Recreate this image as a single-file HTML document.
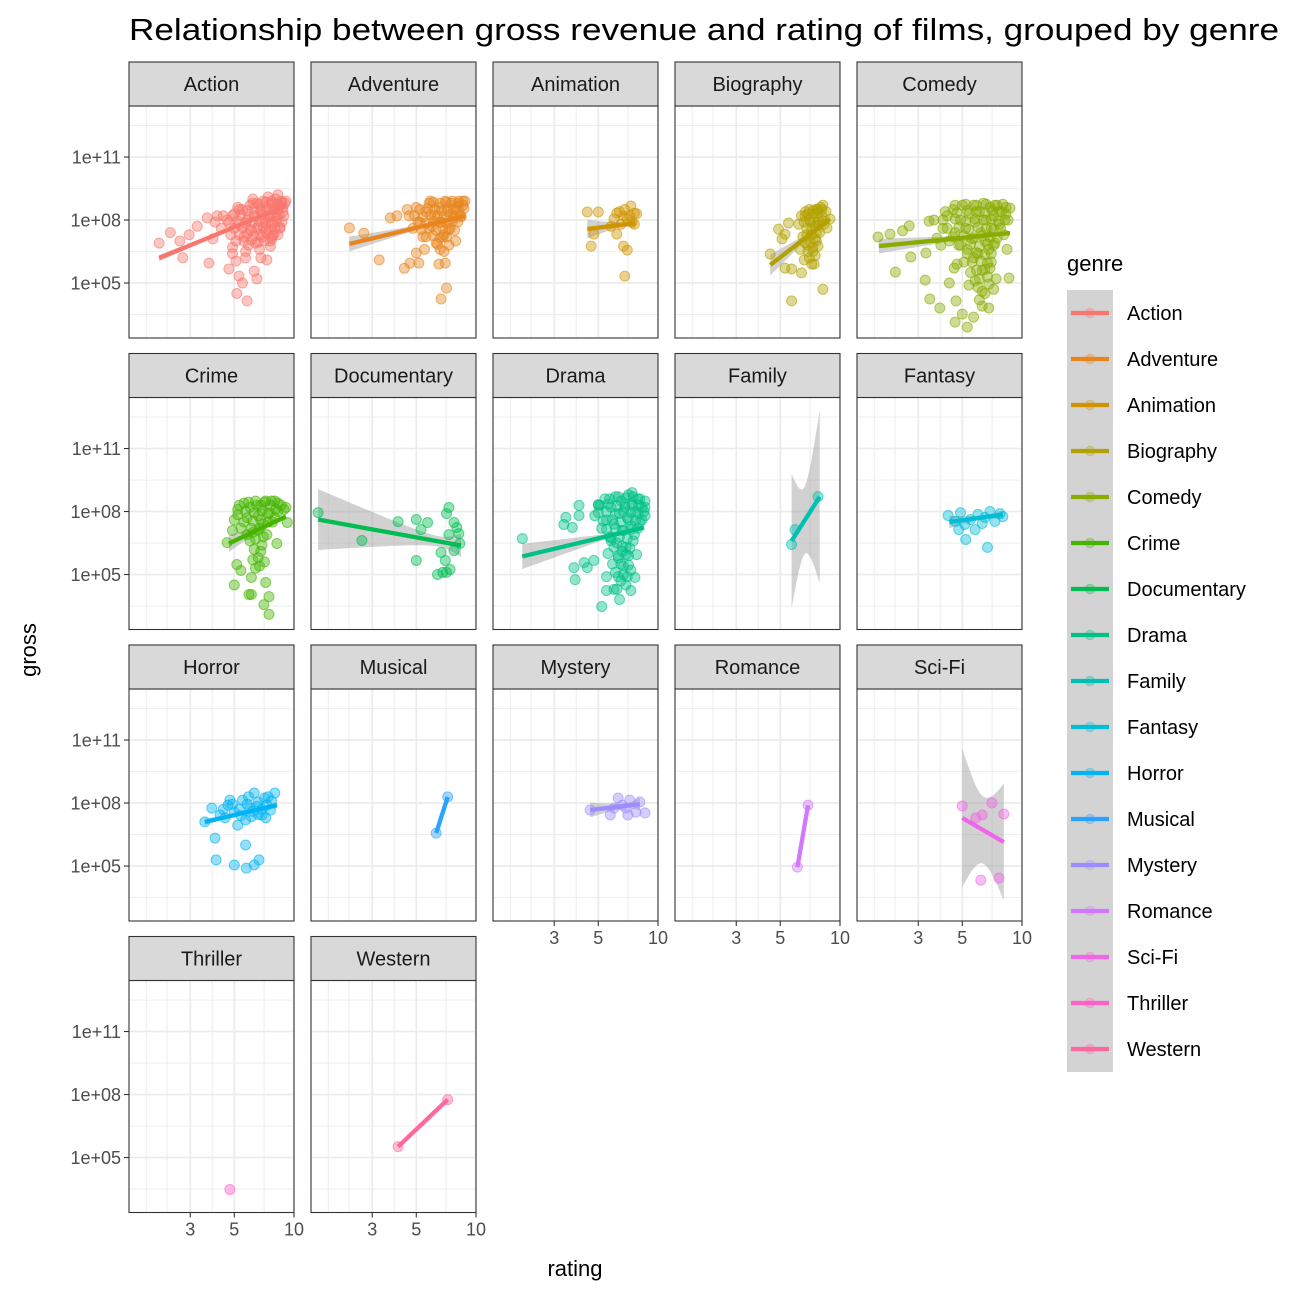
<!DOCTYPE html>
<html><head><meta charset="utf-8"><style>
html,body{margin:0;padding:0;background:#fff;}
svg{display:block;font-family:"Liberation Sans",Arial,sans-serif;}
</style></head><body>
<svg id="chart" width="1296" height="1296" viewBox="0 0 1296 1296" xmlns="http://www.w3.org/2000/svg">
<rect x="0" y="0" width="1296" height="1296" fill="#fff"/>
<text x="129" y="40" font-size="31" fill="#000" textLength="1150" lengthAdjust="spacingAndGlyphs">Relationship between gross revenue and rating of films, grouped by genre</text>
<text x="0" y="0" font-size="22" fill="#000" text-anchor="middle" transform="translate(36,650) rotate(-90)">gross</text>
<text x="575" y="1276" font-size="22" fill="#000" text-anchor="middle">rating</text>
<text x="1067" y="271" font-size="22" fill="#000">genre</text>
<g id="panels"></g>
<g id="legend"></g>
</svg>
<script>
const genres = ["Action","Adventure","Animation","Biography","Comedy","Crime","Documentary","Drama","Family","Fantasy","Horror","Musical","Mystery","Romance","Sci-Fi","Thriller","Western"];
const colors = ["#F8766D","#E7851E","#D09400","#B2A100","#89AC00","#45B500","#00BC51","#00C087","#00C0B2","#00BCD6","#00B3F2","#29A3FF","#9C8DFF","#D277FF","#F166E8","#FF61C7","#FF689E"];
const xTicks = [3,5,10];
const xTickLabels = ["3","5","10"];
const xMinor = [1.8,2.29,3.87,7.07];
const yTicks = [11,8,5];
const yTickLabels = ["1e+11","1e+08","1e+05"];
const yMinor = [12.5,9.5,6.5,3.5];

// points: [rating, log10(gross)]
const action = [[2.09,6.9],[2.38,7.4],[2.66,7.0],[2.75,6.2],[2.96,7.3],[3.73,5.95],[3.25,7.7],[3.65,8.1],[4.1,8.2],[4.7,5.67],[5.1,6.05],[5.28,5.33],[5.5,5.0],[5.15,4.5],[5.8,4.15],[6.3,5.57],[6.5,5.2],[7.3,6.1],[5.7,6.2],[6.8,6.2],[7.75,7.1],[4.9,6.4],
[4.3,7.6],[4.6,8.0],[4.8,7.3],[5.0,8.3],[5.1,7.0],[5.3,7.8],[5.5,8.5],[5.6,7.2],[5.8,8.0],[5.9,6.8],[6.0,8.7],[6.1,7.5],[6.3,8.2],[6.4,6.9],[6.5,8.8],[6.6,7.7],[6.8,8.4],[6.9,7.2],[7.0,8.9],[7.1,8.0],[7.2,7.5],[7.3,8.6],[7.5,8.2],[7.6,7.0],[7.7,8.9],[7.8,7.8],[8.0,8.5],[8.1,9.0],[8.2,8.1],[8.4,8.7],[8.5,7.6],[8.6,8.9],[8.8,8.4],[9.0,8.8],[5.2,8.6],[4.4,8.2],[6.2,9.0],[7.4,9.1],[8.3,9.2],[6.7,6.6],[5.7,6.5],[4.9,6.7],[7.9,7.3],[4.0,7.9],[3.9,7.1],
[6.2,8.8],[6.7,8.75],[7.2,8.85],[7.7,8.8],[8.2,8.75],[8.7,8.85],[9.1,8.9],
[5.3,8.5],[5.8,8.45],[6.3,8.55],[6.8,8.5],[7.3,8.45],[7.8,8.55],[8.3,8.5],[8.8,8.6],
[4.9,8.2],[5.4,8.25],[5.9,8.15],[6.4,8.2],[6.9,8.25],[7.4,8.15],[7.9,8.2],[8.4,8.25],[8.9,8.2],
[4.7,7.9],[5.2,7.95],[5.7,7.85],[6.2,7.9],[6.7,7.95],[7.2,7.85],[7.7,7.9],[8.2,7.95],[8.7,7.9],
[5.0,7.6],[5.5,7.65],[6.0,7.55],[6.5,7.6],[7.0,7.65],[7.5,7.55],[8.0,7.6],[8.5,7.65],
[5.3,7.3],[5.8,7.35],[6.3,7.25],[6.8,7.3],[7.3,7.35],[7.8,7.25],[8.3,7.3],
[5.6,7.0],[6.1,7.05],[6.6,6.95],[7.1,7.0],[7.6,6.75]];
const adventure = [[2.3,7.62],[2.72,7.38],[3.25,6.1],[3.7,8.1],[4.0,8.2],[4.35,5.7],[4.65,5.95],[5.15,5.95],[5.0,6.43],[6.5,5.9],[7.0,5.95],[7.1,4.76],[6.66,4.24],[4.5,8.5],
[4.6,8.2],[4.8,7.6],[5.0,8.6],[5.2,7.9],[5.4,7.2],[5.6,8.4],[5.8,8.8],[6.0,7.7],[6.2,8.2],[6.3,6.9],[6.5,8.6],[6.7,7.9],[6.9,7.3],[7.0,8.9],[7.2,8.4],[7.4,7.6],[7.5,8.8],[7.7,8.1],[7.9,7.0],[8.0,8.6],[8.2,8.9],[8.4,8.2],[8.6,8.7],[8.8,8.9],[5.5,6.6],[6.6,6.6],[7.3,6.8],[5.9,8.9],[6.8,7.2],
[6.1,8.85],[6.6,8.8],[7.1,8.85],[7.6,8.9],[8.1,8.8],[8.6,8.9],
[5.2,8.5],[5.7,8.55],[6.2,8.5],[6.7,8.45],[7.2,8.55],[7.7,8.5],[8.2,8.45],[8.7,8.55],
[4.9,8.2],[5.4,8.15],[5.9,8.25],[6.4,8.2],[6.9,8.15],[7.4,8.25],[7.9,8.2],[8.4,8.15],
[5.1,7.9],[5.6,7.85],[6.1,7.95],[6.6,7.9],[7.1,7.85],[7.6,7.95],[8.1,7.9],
[5.3,7.55],[5.8,7.6],[6.3,7.5],[6.8,7.6],[7.3,7.55],[7.8,7.5],
[5.6,7.2],[6.1,7.25],[6.6,7.15],[7.1,7.2],[6.4,6.85],[6.9,6.5]];
const animation = [[4.4,8.38],[5.0,8.38],[4.6,6.76],[4.75,7.33],[6.2,8.33],[7.3,8.67],[7.6,8.33],[6.7,8.19],[6.2,7.33],[6.7,6.76],[7.0,6.57],[6.8,5.33],[7.8,8.3],[7.6,7.8],[6.0,8.05],[7.0,8.05],[6.5,7.8],[6.8,8.5],[7.2,8.2],[6.4,8.4],[7.4,7.9],[5.8,7.7]];
const biography = [[4.45,6.38],[4.9,7.57],[5.5,7.86],[5.28,7.33],[5.1,7.1],[5.28,5.71],[5.7,5.67],[6.4,5.48],[7.2,5.9],[8.2,4.7],[5.7,4.15],[7.6,8.52],[6.66,8.19],[8.9,8.05],[8.6,7.62],[7.75,6.76],[7.5,6.3],
[6.2,7.8],[6.4,8.2],[6.5,7.2],[6.7,8.4],[6.8,7.6],[6.9,6.8],[7.0,8.5],[7.1,7.9],[7.2,7.3],[7.3,6.5],[7.4,8.3],[7.5,7.7],[7.6,7.0],[7.7,8.5],[7.8,8.0],[7.9,7.4],[8.0,8.6],[8.1,8.2],[8.3,7.8],[8.5,8.4],[6.6,6.1],[7.0,6.2],[7.4,5.9],[6.3,6.6],[8.2,8.7],
[6.9,8.3],[7.3,8.45],[7.7,8.3],[8.1,8.5],[6.6,7.9],[7.0,8.0],[7.4,7.9],[7.8,7.75],[8.2,7.95],[6.8,7.3],[7.2,7.55],[7.6,7.4],[6.7,6.9],[7.1,6.95],[7.5,7.1],[6.9,6.5],[7.3,6.7]];
const comedy = [[1.88,7.19],[2.16,7.33],[2.5,7.48],[2.7,7.72],[2.75,6.24],[2.3,5.52],[3.25,5.14],[3.28,6.43],[3.43,4.24],[3.85,3.81],[4.6,3.14],[5.0,3.52],[5.3,2.9],[5.7,3.38],[4.65,4.15],[4.3,5.0],[4.55,5.71],[8.6,5.24],[8.7,8.57],[6.8,3.81],[6.3,3.9],[3.4,7.95],[3.73,7.14],
[4.0,7.6],[4.2,8.2],[4.3,7.0],[4.5,8.5],[4.6,7.4],[4.8,6.8],[4.9,8.0],[5.0,8.7],[5.2,7.6],[5.3,6.6],[5.4,8.3],[5.6,7.1],[5.7,8.7],[5.8,7.9],[6.0,6.4],[6.1,8.4],[6.2,7.4],[6.4,8.8],[6.5,7.0],[6.6,8.0],[6.8,6.6],[6.9,8.6],[7.0,7.6],[7.2,8.2],[7.3,6.9],[7.5,8.7],[7.7,7.8],[7.9,8.4],[8.1,7.3],[8.3,8.6],[5.1,6.0],[5.5,5.5],[5.8,5.1],[6.0,4.8],[6.3,5.6],[6.5,4.5],[6.7,5.3],[7.0,6.0],[7.2,4.7],[5.4,4.9],[6.1,4.2],[5.7,6.2],[6.9,5.7],[7.4,5.2],[4.7,5.9],[3.6,8.0],[3.9,6.8],[8.5,8.0],[8.4,6.6],
[4.6,8.7],[5.2,8.75],[5.9,8.7],[6.6,8.75],[7.3,8.7],[8.0,8.75],
[4.1,8.4],[4.7,8.35],[5.3,8.45],[5.9,8.4],[6.5,8.35],[7.1,8.45],[7.7,8.4],[8.3,8.3],
[4.0,8.0],[4.6,8.05],[5.2,7.95],[5.8,8.05],[6.4,8.0],[7.0,8.05],[7.6,7.95],[8.2,8.0],
[4.2,7.6],[4.8,7.65],[5.4,7.55],[6.0,7.65],[6.6,7.6],[7.2,7.55],[7.8,7.6],
[4.5,7.2],[5.1,7.25],[5.7,7.15],[6.3,7.25],[6.9,7.2],[7.5,7.15],
[4.9,6.8],[5.5,6.85],[6.1,6.75],[6.7,6.85],[7.2,6.8],
[5.3,6.4],[5.9,6.45],[6.5,6.35],[7.0,6.4],
[5.6,6.0],[6.2,6.05],[6.7,5.95],[5.9,5.6],[6.5,5.65],[6.1,5.2],[6.8,4.95],[6.3,4.6]];
const crime = [[5.0,4.5],[5.93,4.05],[6.1,4.05],[7.05,3.57],[7.48,3.1],[7.48,3.95],[7.2,4.62],[6.1,4.86],[5.15,5.48],[5.4,5.19],[4.6,6.52],[4.9,7.1],[8.2,6.48],[9.1,8.19],[9.25,7.48],
[5.0,7.6],[5.2,8.1],[5.4,7.2],[5.6,8.4],[5.8,7.7],[6.0,8.2],[6.2,7.0],[6.4,8.5],[6.6,7.8],[6.8,8.3],[7.0,7.4],[7.2,8.5],[7.4,7.9],[7.6,8.3],[7.8,7.5],[8.0,8.5],[8.3,8.0],[8.6,8.3],[8.9,8.1],[6.0,6.6],[6.3,6.2],[6.6,5.8],[6.9,6.4],[7.1,5.6],[6.4,5.3],[5.8,6.9],[7.3,6.9],[6.7,7.2],
[5.3,8.3],[5.9,8.45],[6.5,8.3],[7.1,8.45],[7.7,8.5],[8.3,8.4],[5.2,7.85],[5.7,8.0],[6.3,7.95],[6.9,8.05],[7.5,7.95],[8.1,8.1],[5.6,7.5],[6.2,7.55],[6.8,7.6],[7.4,7.5],[8.0,7.7],[6.1,7.2],[6.6,7.1],[7.0,6.8],[6.4,6.7],[6.8,6.1],[6.2,5.7],[6.7,5.4]];
const documentary = [[1.6,7.95],[2.66,6.62],[4.05,7.52],[5.0,7.62],[5.7,7.48],[5.28,7.14],[5.0,5.67],[7.3,8.19],[7.1,7.9],[7.75,7.48],[8.0,7.24],[8.2,6.95],[7.3,6.9],[8.3,6.48],[7.75,6.14],[6.66,6.05],[7.0,5.67],[7.4,5.24],[6.4,5.0],[7.1,5.1],[6.8,5.1]];
const drama = [[2.07,6.71],[3.35,7.38],[3.43,7.72],[3.7,7.24],[4.0,8.29],[4.0,7.81],[5.0,8.33],[3.77,5.33],[3.82,4.76],[4.24,5.57],[4.4,5.33],[5.2,3.48],[6.4,3.81],[5.5,4.24],[6.0,4.29],[7.3,4.24],[7.8,5.95],[7.65,4.86],[7.4,8.9],[4.75,5.67],
[4.8,7.8],[5.0,8.3],[5.2,7.2],[5.4,8.6],[5.5,7.6],[5.7,6.8],[5.8,8.2],[6.0,7.4],[6.1,8.7],[6.2,6.5],[6.4,7.9],[6.5,8.5],[6.6,7.1],[6.8,8.2],[6.9,6.3],[7.0,7.7],[7.1,8.8],[7.3,7.3],[7.4,8.4],[7.6,6.9],[7.7,8.0],[7.9,8.6],[8.1,7.5],[8.3,8.2],[8.6,7.8],[5.6,6.0],[5.9,5.5],[6.1,5.1],[6.3,5.8],[6.5,4.7],[6.7,5.4],[6.9,4.5],[7.1,5.9],[7.3,5.2],[5.5,4.9],[6.2,4.3],[6.6,6.1],[7.0,4.9],[5.8,6.6],
[5.7,8.6],[6.3,8.7],[6.9,8.65],[7.5,8.7],[8.1,8.6],[8.6,8.5],
[5.1,8.3],[5.6,8.35],[6.2,8.25],[6.8,8.35],[7.4,8.3],[8.0,8.3],[8.6,8.2],
[5.0,7.95],[5.5,8.0],[6.1,7.9],[6.7,8.0],[7.3,7.95],[7.9,7.9],[8.5,8.0],
[5.3,7.55],[5.9,7.6],[6.5,7.5],[7.1,7.6],[7.7,7.55],[8.3,7.6],
[5.5,7.15],[6.1,7.2],[6.7,7.1],[7.3,7.15],[7.9,7.2],
[5.8,6.75],[6.4,6.8],[7.0,6.7],[7.5,6.6],
[6.0,6.3],[6.6,6.35],[7.2,6.25],[6.3,5.9],[6.9,5.95],[6.5,5.5],[7.1,5.45],[6.7,5.0],[6.3,4.9]];
const family = [[5.7,6.43],[5.93,7.14],[7.75,8.71]];
const fantasy = [[4.24,7.81],[4.6,7.53],[4.9,7.95],[5.15,7.38],[5.5,7.62],[6.0,7.86],[6.5,7.72],[6.9,8.0],[7.3,7.53],[7.75,7.9],[8.0,7.76],[5.2,6.67],[6.7,6.29],[4.8,7.14],[5.8,7.14],[6.3,7.43]];
const horror = [[3.55,7.1],[3.85,7.76],[4.24,7.43],[4.65,7.9],[5.0,7.57],[5.5,8.14],[6.0,7.76],[6.6,8.05],[7.1,8.24],[7.6,7.67],[8.0,8.48],[6.9,7.43],[5.7,7.19],[4.0,6.33],[5.7,6.0],[4.05,5.29],[5.0,5.05],[5.75,4.9],[6.3,5.05],[6.66,5.29],[4.75,8.14],[6.3,8.48],[5.2,6.95],
[4.4,7.7],[4.9,7.95],[5.3,7.7],[5.8,7.95],[6.2,7.6],[6.5,7.85],[6.9,7.7],[7.3,7.9],[7.7,8.1],[4.5,7.3],[5.4,7.4],[6.1,7.35],[6.6,7.45],[7.2,7.3],[5.9,8.3],[7.4,8.3]];
const musical = [[6.3,6.57],[7.2,8.29]];
const mystery = [[4.55,7.67],[5.75,7.43],[6.3,8.24],[6.6,7.9],[6.9,7.76],[7.2,8.14],[7.75,7.57],[8.1,8.05],[8.6,7.53],[7.05,7.43],[6.0,7.76]];
const romance = [[6.1,4.95],[6.9,7.9]];
const scifi = [[5.0,7.86],[7.05,8.0],[8.1,7.48],[6.3,7.43],[5.85,7.29],[6.2,4.33],[7.65,4.43]];
const thriller = [[4.75,3.48]];
const western = [[4.05,5.52],[7.2,7.76]];
const genrePoints = [action,adventure,animation,biography,comedy,crime,documentary,drama,family,fantasy,horror,musical,mystery,romance,scifi,thriller,western];

// fitted lines: start/end rating and log10 gross
const lineR0 = [2.09,2.3,4.4,4.45,1.9,4.7,1.6,2.07,5.7,4.3,3.55,6.3,4.55,6.1,5.0,null,4.05];
const lineE0 = [6.19,6.86,7.57,5.86,6.76,6.48,7.62,5.86,6.6,7.5,7.1,6.57,7.67,4.95,7.29,null,5.52];
const lineR1 = [9.1,8.8,7.7,8.9,8.7,9.1,8.4,8.5,7.9,8.0,8.2,7.2,8.1,6.9,8.1,null,7.2];
const lineE1 = [8.67,8.19,7.86,8.05,7.38,7.76,6.38,7.24,8.7,7.85,7.9,8.29,7.95,7.9,6.14,null,7.76];
// confidence band half-widths (log10 units): at left end, minimum, right end; rating of minimum
const bandLeft  = [0.15,0.35,0.45,0.5,0.35,0.4,1.45,0.6,3.2,0.3,0.15,0,0.35,0,3.3,0,0];
const bandMin   = [0.04,0.05,0.12,0.1,0.04,0.08,0.25,0.05,1.6,0.1,0.06,0,0.12,0,1.6,0,0];
const bandRight = [0.06,0.07,0.25,0.15,0.08,0.15,0.55,0.08,4.1,0.2,0.15,0,0.3,0,2.8,0,0];
const bandMinAt = [7.2,6.8,6.6,7.5,6.6,7.2,6.6,6.8,6.6,6.3,6.0,0,6.9,0,6.4,0,0];

const NS = "http://www.w3.org/2000/svg";
const colLeft = [129,311,493,675,857];
const rowTop = [106,397.5,689,980.5];
const PW = 165, PH = 232;
function xScale(left, r){ return left + PW - (1 - Math.log10(r)) * 198.4; }
function yScale(top, e){ return top + (13.43 - e) * 21; }
function mk(tag, attrs, parent){
  const el = document.createElementNS(NS, tag);
  for (const k in attrs) el.setAttribute(k, attrs[k]);
  parent.appendChild(el);
  return el;
}
const panels = document.getElementById("panels");
const defs = mk("defs", {}, panels);
const bottomRowFor = [3,3,2,2,2];

genres.forEach((g, i) => {
  const col = i % 5, row = Math.floor(i / 5);
  const L = colLeft[col], T = rowTop[row];
  const grp = mk("g", {}, panels);
  
  
  const cp = mk("clipPath", {id: "clip" + i}, defs);
  mk("rect", {x: L, y: T, width: PW, height: PH}, cp);
  mk("rect", {x: L, y: T, width: PW, height: PH, fill: "#fff"}, grp);
  const grid = mk("g", {"clip-path": "url(#clip" + i + ")"}, grp);
  
  
  yMinor.forEach(v => { const y = yScale(T, v); mk("line", {x1: L, x2: L+PW, y1: y, y2: y, stroke: "#EBEBEB", "stroke-width": 0.9}, grid); });
  xMinor.forEach(v => { const x = xScale(L, v); mk("line", {x1: x, x2: x, y1: T, y2: T+PH, stroke: "#EBEBEB", "stroke-width": 0.9}, grid); });
  yTicks.forEach(v => { const y = yScale(T, v); mk("line", {x1: L, x2: L+PW, y1: y, y2: y, stroke: "#EBEBEB", "stroke-width": 1.7}, grid); });
  xTicks.forEach(v => { const x = xScale(L, v); mk("line", {x1: x, x2: x, y1: T, y2: T+PH, stroke: "#EBEBEB", "stroke-width": 1.7}, grid); });

  const marks = mk("g", {"clip-path": "url(#clip" + i + ")"}, grp);
  const c = colors[i];
  if (lineR0[i] !== null && bandLeft[i] > 0) {
    const t0 = Math.log10(lineR0[i]), t1 = Math.log10(lineR1[i]), tm = Math.log10(bandMinAt[i]);
    const m = bandMin[i];
    const up = [], dn = [];
    for (let k = 0; k <= 40; k++) {
      const t = t0 + (t1 - t0) * k / 40;
      const ec = lineE0[i] + (lineE1[i] - lineE0[i]) * k / 40;
      let hw;
      if (t < tm) { const E = bandLeft[i]; const f = (t - tm) / (t0 - tm); hw = Math.sqrt(m*m + (E*E - m*m) * f * f); }
      else { const E = bandRight[i]; const f = (t - tm) / (t1 - tm || 1); hw = Math.sqrt(m*m + (E*E - m*m) * f * f); }
      const x = xScale(L, Math.pow(10, t));
      up.push(x.toFixed(1) + "," + yScale(T, ec + hw).toFixed(1));
      dn.unshift(x.toFixed(1) + "," + yScale(T, ec - hw).toFixed(1));
    }
    const band = mk("polygon", {points: up.concat(dn).join(" "), fill: "#999999", "fill-opacity": 0.45}, marks);
    
    
  }
  genrePoints[i].forEach(p => {
    const dot = mk("circle", {cx: xScale(L, p[0]).toFixed(1), cy: yScale(T, p[1]).toFixed(1), r: 5, fill: c, "fill-opacity": 0.42, stroke: c, "stroke-opacity": 0.6, "stroke-width": 1}, marks);
    
    
  });
  if (lineR0[i] !== null) {
    const ln = mk("line", {x1: xScale(L, lineR0[i]), y1: yScale(T, lineE0[i]), x2: xScale(L, lineR1[i]), y2: yScale(T, lineE1[i]), stroke: c, "stroke-width": 4.3}, marks);
    
    
  }
  mk("rect", {x: L, y: T, width: PW, height: PH, fill: "none", stroke: "#333333", "stroke-width": 1.1}, grp);
  const strip = mk("rect", {x: L, y: T - 44, width: PW, height: 44, fill: "#D9D9D9", stroke: "#333333", "stroke-width": 1.1}, grp);
  
  
  const st = mk("text", {x: L + PW/2, y: T - 15, "font-size": 20, "text-anchor": "middle", fill: "#1A1A1A"}, grp);
  st.textContent = g;
  
  
  if (col === 0) {
    yTicks.forEach((v, k) => {
      const y = yScale(T, v);
      mk("line", {x1: L - 5, x2: L, y1: y, y2: y, stroke: "#333333", "stroke-width": 1.1}, grp);
      const tl = mk("text", {x: L - 8, y: y + 6.5, "font-size": 18, "text-anchor": "end", fill: "#4D4D4D"}, grp);
      tl.textContent = yTickLabels[k];
      
      
    });
  }
  if (row === bottomRowFor[col]) {
    xTicks.forEach((v, k) => {
      const x = xScale(L, v);
      mk("line", {x1: x, x2: x, y1: T + PH, y2: T + PH + 5, stroke: "#333333", "stroke-width": 1.1}, grp);
      const tl = mk("text", {x: x, y: T + PH + 23, "font-size": 18, "text-anchor": "middle", fill: "#4D4D4D"}, grp);
      tl.textContent = xTickLabels[k];
      
      
    });
  }
});

const leg = document.getElementById("legend");
const lbg = mk("rect", {x: 1067, y: 290, width: 46, height: 46 * genres.length, fill: "#D3D3D3"}, leg);


genres.forEach((g, i) => {
  const cy = 313 + i * 46;
  const e = mk("g", {}, leg);
  
  
  mk("line", {x1: 1071, x2: 1109, y1: cy, y2: cy, stroke: colors[i], "stroke-width": 4.3}, e);
  mk("circle", {cx: 1090, cy: cy, r: 4.8, fill: colors[i], "fill-opacity": 0.3, stroke: colors[i], "stroke-opacity": 0.3}, e);
  const t = mk("text", {x: 1127, y: cy + 7, "font-size": 20, fill: "#000"}, e);
  t.textContent = g;
});
</script>
</body></html>
